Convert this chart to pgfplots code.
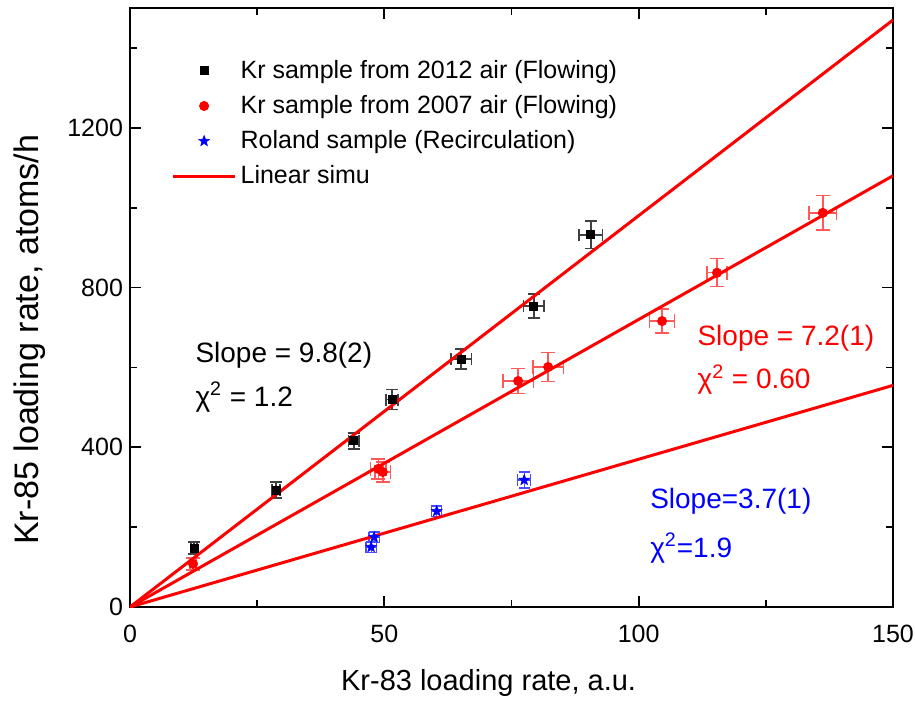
\documentclass[border=0pt]{standalone}
\usepackage{fontspec}
\setmainfont{Liberation Sans}
\usepackage{pgfplots}
\pgfplotsset{compat=1.18}
\usepackage{pgfplotstable}

% filled five-pointed star
\pgfdeclareplotmark{fstar}{%
  \pgfpathmoveto{\pgfpointpolar{90}{\pgfplotmarksize}}%
  \pgfpathlineto{\pgfpointpolar{126}{0.42\pgfplotmarksize}}%
  \pgfpathlineto{\pgfpointpolar{162}{\pgfplotmarksize}}%
  \pgfpathlineto{\pgfpointpolar{198}{0.42\pgfplotmarksize}}%
  \pgfpathlineto{\pgfpointpolar{234}{\pgfplotmarksize}}%
  \pgfpathlineto{\pgfpointpolar{270}{0.42\pgfplotmarksize}}%
  \pgfpathlineto{\pgfpointpolar{306}{\pgfplotmarksize}}%
  \pgfpathlineto{\pgfpointpolar{342}{0.42\pgfplotmarksize}}%
  \pgfpathlineto{\pgfpointpolar{18}{\pgfplotmarksize}}%
  \pgfpathlineto{\pgfpointpolar{54}{0.42\pgfplotmarksize}}%
  \pgfpathclose
  \pgfusepathqfillstroke}

% Kr-85 vs Kr-83 loading rates
\pgfplotstableread{
x     y    ex   ey
12.6  148  0.6  15
28.7  293  0.8  20
44.0  416  1.0  20
51.5  519  1.2  25
65.1  621  2.0  25
79.4  754  2.0  30
90.6  932  2.3  35
}\krtwelve

\pgfplotstableread{
x     y    ex   ey
12.4  108  0.6  15
48.8  346  1.5  25
49.7  338  1.5  25
76.3  566  3.0  32
82.2  601  3.0  37
104.6 716  2.5  30
115.4 837  2.0  35
136.2 987  2.7  43
}\krseven

\pgfplotstableread{
x     y    ex   ey
47.4  150  1.0  13
48.0  175  1.0  13
60.3  240  1.0  13
77.5  318  1.3  20
}\roland

\begin{document}
\begin{tikzpicture}
\begin{axis}[
    name=ax,
    scale only axis,
    width=381.5pt, height=299.5pt,
    xmin=0, xmax=150, ymin=0, ymax=1500,
    xtick={0,50,100,150},
    ytick={0,400,800,1200},
    minor xtick={25,75,125},
    minor ytick={200,600,1000,1400},
    tick align=inside,
    major tick length=5.5pt,
    minor tick length=3.5pt,
    axis line style={line width=1pt},
    every tick/.style={black, line width=0.9pt},
    tick label style={font=\fontsize{12.5}{14}\selectfont},
    xticklabel style={yshift=-5.5pt},
    /pgf/number format/assume math mode=true,
    /pgf/number format/1000 sep={},
    xlabel={Kr-83 loading rate, a.u.},
    ylabel={Kr-85 loading rate, atoms/h},
    xlabel style={font=\fontsize{14.5}{16}\selectfont, at={(axis description cs:0.47,-0.127)}, anchor=center},
    ylabel style={font=\fontsize{17}{19}\selectfont, at={(axis description cs:-0.131,0.446)}, anchor=center},
    legend style={at={(axis description cs:0.054,0.92)}, anchor=north west,
        draw=none, fill=none, inner sep=0pt,
        font=\fontsize{12.5}{14}\selectfont, row sep=3pt},
    legend cell align=left,
    legend image code/.code={
        \draw[mark repeat=2,mark phase=2,#1] plot coordinates {(0pt,0pt) (15.5pt,0pt) (31pt,0pt)};},
]

\addplot[only marks, mark=square*, mark size=2pt, black,
    error bars/.cd, x dir=both, x explicit, y dir=both, y explicit,
    error bar style={gray!50!black, line width=0.7pt},
    error mark options={rotate=90, mark size=3pt, gray!50!black, line width=0.7pt}]
    table[x=x, y=y, x error=ex, y error=ey] {\krtwelve};
\addlegendentry{Kr sample from 2012 air (Flowing)}

\addplot[only marks, mark=*, mark size=2.3pt, red,
    error bars/.cd, x dir=both, x explicit, y dir=both, y explicit,
    error bar style={red!65, line width=0.7pt},
    error mark options={rotate=90, mark size=3.5pt, red!65, line width=0.7pt}]
    table[x=x, y=y, x error=ex, y error=ey] {\krseven};
\addlegendentry{Kr sample from 2007 air (Flowing)}

\addplot[only marks, mark=fstar, mark size=2.8pt, blue, mark options={fill=blue, line width=0.3pt},
    error bars/.cd, x dir=both, x explicit, y dir=both, y explicit,
    error bar style={blue!70, line width=0.6pt},
    error mark options={rotate=90, mark size=2.8pt, blue!70, line width=0.6pt}]
    table[x=x, y=y, x error=ex, y error=ey] {\roland};
\addlegendentry{Roland sample (Recirculation)}

\addplot[red, line width=1.5pt, no marks] coordinates {(0,0) (150,1470)};
\addlegendentry{Linear simu}
\addplot[red, line width=1.5pt, no marks, forget plot] coordinates {(0,0) (150,1080)};
\addplot[red, line width=1.5pt, no marks, forget plot] coordinates {(0,0) (150,555)};

\node[anchor=west, inner sep=0pt, font=\fontsize{14}{16}\selectfont, black] at (axis cs:12.8,631) {Slope = 9.8(2)};
\node[anchor=west, inner sep=0pt, font=\fontsize{14}{16}\selectfont, black] at (axis cs:12.8,526) {χ\textsuperscript{2} = 1.2};
\node[anchor=west, inner sep=0pt, font=\fontsize{14}{16}\selectfont, red] at (axis cs:111.5,674) {Slope = 7.2(1)};
\node[anchor=west, inner sep=0pt, font=\fontsize{14}{16}\selectfont, red] at (axis cs:111.5,569) {χ\textsuperscript{2} = 0.60};
\node[anchor=west, inner sep=0pt, font=\fontsize{14}{16}\selectfont, blue] at (axis cs:102.2,266) {Slope=3.7(1)};
\node[anchor=west, inner sep=0pt, font=\fontsize{14}{16}\selectfont, blue] at (axis cs:102.2,148) {χ\textsuperscript{2}=1.9};
\end{axis}
\pgfresetboundingbox
\path ([shift={(-65pt,-47.5pt)}]ax.south west) rectangle ([shift={(11pt,4pt)}]ax.north east);
\end{tikzpicture}
\end{document}
